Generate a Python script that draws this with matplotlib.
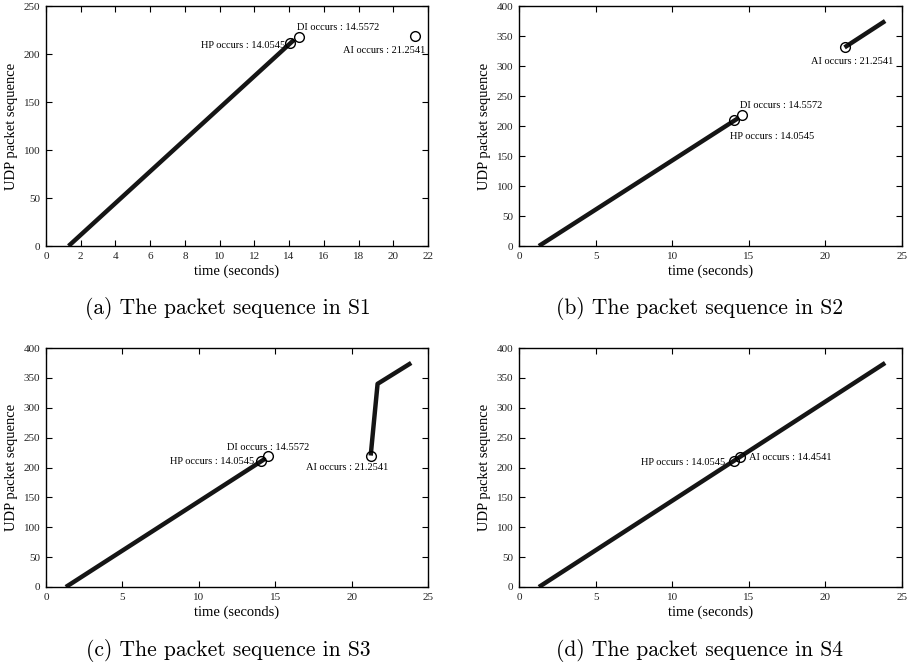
import matplotlib
matplotlib.use("Agg")
import matplotlib.pyplot as plt

# line segments: (times, packet sequence numbers)
s1_segments = [([1.3, 14.3], [0, 215])]
s2_segments = [([1.3, 14.3], [0, 213]), ([21.25, 23.9], [331, 375])]
s3_segments = [([1.3, 14.3], [0, 214]), ([21.25, 21.7, 23.9], [220, 340, 375])]
s4_segments = [([1.3, 23.9], [0, 375])]

# event markers: (label, time, sequence)
s1_events = [("HP", 14.0545, 211), ("DI", 14.5572, 218), ("AI", 21.2541, 219)]
s2_events = [("HP", 14.0545, 210), ("DI", 14.5572, 218), ("AI", 21.2541, 331)]
s3_events = [("HP", 14.0545, 211), ("DI", 14.5572, 219), ("AI", 21.2541, 219)]
s4_events = [("HP", 14.0545, 211), ("AI", 14.4541, 218)]

# annotation placement per panel: label -> (x, y, ha)
s1_text = {"HP": (13.75, 209, "right"), "DI": (14.45, 228, "left"), "AI": (21.85, 204, "right")}
s2_text = {"HP": (13.75, 183, "left"), "DI": (14.45, 234, "left"), "AI": (21.75, 307, "center")}
s3_text = {"HP": (13.6, 210, "right"), "DI": (14.55, 234, "center"), "AI": (19.7, 200, "center")}
s4_text = {"HP": (13.45, 208, "right"), "AI": (15.0, 217, "left")}

captions = ["(a) The packet sequence in S1", "(b) The packet sequence in S2",
            "(c) The packet sequence in S3", "(d) The packet sequence in S4"]

W, H = 917, 666
fig = plt.figure(figsize=(W / 100, H / 100), dpi=100)

serif = ["Liberation Serif", "DejaVu Serif"]


def panel(rect, segments, events, texts, xmax, xstep, ymax):
    ax = fig.add_axes(rect)
    for xs, ys in segments:
        ax.plot(xs, ys, color="#151515", lw=3.2, solid_capstyle="butt")
    for name, t, s in events:
        ax.plot([t], [s], "o", mfc="none", mec="black", ms=7, mew=1.0)
        tx, ty, ha = texts[name]
        ax.text(tx, ty, f"{name} occurs : {t:.4f}", ha=ha, va="center",
                fontsize=7.5, family=serif)
    ax.set_xlim(0, xmax)
    ax.set_ylim(0, ymax)
    ax.set_xticks(range(0, xmax + 1, xstep))
    ax.set_yticks(range(0, ymax + 1, 50))
    ax.tick_params(direction="in", length=4, width=0.8, top=True, right=True,
                   labelsize=8, pad=4, labelcolor="#222222")
    for lab in ax.get_xticklabels() + ax.get_yticklabels():
        lab.set_family(serif)
    for sp in ax.spines.values():
        sp.set_linewidth(1.0)
    ax.set_xlabel("time (seconds)", fontsize=10.5, family=serif, labelpad=3)
    ax.set_ylabel("UDP packet sequence", fontsize=10.5, family=serif, labelpad=4)
    return ax


def rect(left, top, right, bottom):
    return [left / W, 1 - bottom / H, (right - left) / W, (bottom - top) / H]


panel(rect(46, 6, 428, 246), s1_segments, s1_events, s1_text, 22, 2, 250)
panel(rect(519, 6, 902, 246), s2_segments, s2_events, s2_text, 25, 5, 400)
panel(rect(46, 348, 428, 587), s3_segments, s3_events, s3_text, 25, 5, 400)
panel(rect(519, 348, 902, 587), s4_segments, s4_events, s4_text, 25, 5, 400)

cap_pos = [(228, 308), (700, 308), (228, 651), (700, 651)]
for (cx, cy), cap in zip(cap_pos, captions):
    fig.text(cx / W, 1 - cy / H, cap, ha="center", va="center",
             fontsize=15.5, family="cmr10")

fig.savefig("out.png", dpi=100)
